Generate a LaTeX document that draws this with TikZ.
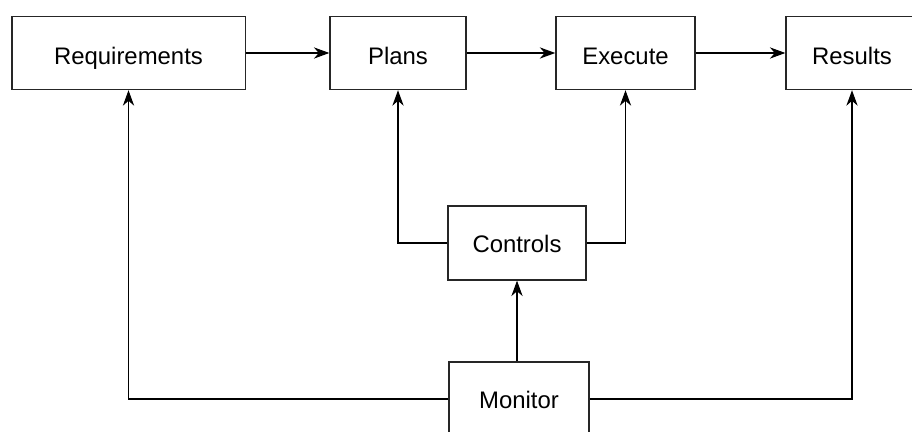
\documentclass[tikz,border=0pt]{standalone}
\usepackage{fontspec}
\setmainfont{Liberation Sans}
\usetikzlibrary{arrows.meta}

\begin{document}
\begin{tikzpicture}[x=0.025cm, y=-0.025cm,
    >={Stealth[length=11pt, width=8pt, inset=3.5pt]},
    font=\fontsize{17}{20}\selectfont,
    block/.style={
        draw=black!85, line width=0.9pt, fill=white,
        minimum height=1.83cm, inner sep=0pt,
        text height=0.45cm, text depth=0pt
    },
    topblock/.style={block, text height=0.56cm},
    signal/.style={->, line width=0.8pt, black},
    wire/.style={-, line width=0.8pt, black},
]
    \clip (0,0) rectangle (912,432);
    \fill[white] (0,0) rectangle (912,432);

    \node[topblock, minimum width=5.83cm] (req)  at (128.5,53) {Requirements};
    \node[topblock, minimum width=3.40cm] (plan) at (398,53)   {Plans};
    \node[topblock, minimum width=3.48cm] (exe)  at (625.5,53) {Execute};
    \node[topblock, minimum width=3.30cm] (res)  at (852,53)   {Results};

    \node[block, minimum width=3.45cm, minimum height=1.85cm] (ctl) at (517,243) {Controls};
    \node[block, minimum width=3.50cm, minimum height=1.85cm] (mon) at (519,399) {Monitor};

    \draw[signal] (req.east)  -- (plan.west);
    \draw[signal] (plan.east) -- (exe.west);
    \draw[signal] (exe.east)  -- (res.west);

    \draw[signal] (ctl.west) -| (plan.south);
    \draw[signal] (ctl.east) -| (exe.south);

    \draw[signal] (mon.north -| ctl.south) -- (ctl.south);
    \draw[signal] (mon.west) -| (req.south);
    \draw[signal] (mon.east) -| (res.south);

\end{tikzpicture}
\end{document}
